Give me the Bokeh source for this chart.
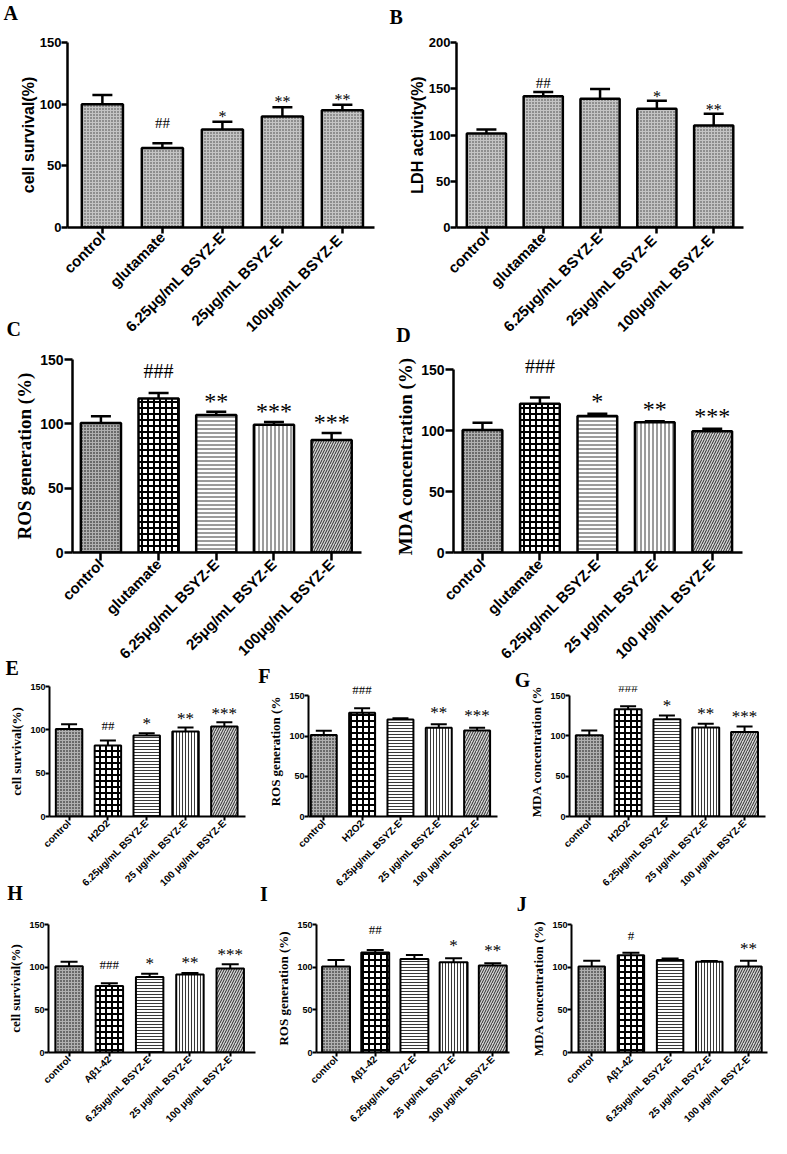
import math
from bokeh.plotting import figure
from bokeh.models import (Range1d, FixedTicker, ColumnDataSource, Whisker, TeeHead,
                          LabelSet, Label)
from bokeh.layouts import column, row
from bokeh.embed import file_html
from bokeh.resources import INLINE

# ---------------- data ----------------
cats_A = ["control", "glutamate", "6.25μg/mL BSYZ-E", "25μg/mL  BSYZ-E", "100μg/mL  BSYZ-E"]
cats_C = ["control", "glutamate", "6.25μg/mL BSYZ-E", "25μg/mL BSYZ-E", "100μg/mL BSYZ-E"]
cats_D = ["control", "glutamate", "6.25μg/mL BSYZ-E", "25 μg/mL BSYZ-E", "100 μg/mL BSYZ-E"]
cats_H2O2 = ["control", "H2O2", "6.25μg/mL BSYZ-E", "25 μg/mL BSYZ-E", "100 μg/mL BSYZ-E"]
cats_AB = ["control", "Aβ1-42", "6.25μg/mL BSYZ-E", "25 μg/mL BSYZ-E", "100 μg/mL BSYZ-E"]

A_mean = [100.0, 64.5, 79.5, 90.0, 95.0]
A_sem = [7.5, 3.8, 6.2, 7.6, 4.6]
A_sig = ["", "##", "*", "**", "**"]

B_mean = [101.5, 142.0, 139.3, 128.3, 110.3]
B_sem = [4.4, 4.6, 10.4, 8.6, 12.8]
B_sig = ["", "##", "", "*", "**"]

C_mean = [100.7, 119.6, 106.8, 99.2, 87.4]
C_sem = [5.1, 4.4, 2.6, 2.3, 5.4]
C_sig = ["", "###", "**", "***", "***"]

D_mean = [100.7, 122.2, 112.2, 107.1, 99.7]
D_sem = [5.9, 5.1, 1.8, 0.7, 2.0]
D_sig = ["", "###", "*", "**", "***"]

E_mean = [101.1, 82.0, 93.5, 98.0, 103.8]
E_sem = [5.4, 5.8, 2.7, 4.7, 5.0]
E_sig = ["", "##", "*", "**", "***"]

F_mean = [101.2, 129.0, 120.4, 110.4, 107.0]
F_sem = [5.3, 5.5, 1.6, 4.2, 3.4]
F_sig = ["", "###", "", "**", "***"]

G_mean = [100.8, 133.0, 120.8, 110.6, 105.0]
G_sem = [6.0, 3.7, 4.6, 4.4, 6.7]
G_sig = ["", "###", "*", "**", "***"]

H_mean = [101.1, 77.8, 88.5, 91.5, 98.5]
H_sem = [5.2, 3.3, 3.7, 1.8, 4.8]
H_sig = ["", "###", "*", "**", "***"]

I_mean = [100.8, 117.3, 109.6, 105.8, 101.9]
I_sem = [7.7, 2.7, 4.6, 4.6, 2.7]
I_sig = ["", "##", "", "*", "**"]

J_mean = [100.8, 114.0, 108.3, 106.4, 100.8]
J_sem = [6.7, 3.0, 1.9, 0.8, 6.7]
J_sig = ["", "#", "", "", "**"]

# ---------------- layout / style ----------------
KX = 771 / 787
KY = 1138 / 1154
SANS = "Liberation Sans"
SERIF = "Liberation Serif"

PAT = {
    "fine": ("#8e8e8e", "cross", "#c4c4c4", 3, 1),
    "fine_dark": ("#6a6a6a", "cross", "#b0b0b0", 3, 1),
    "checker": ("#ffffff", "cross", "#000000", 6, 2),
    "hline": ("#ffffff", "horizontal_line", "#3a3a3a", 4, 1),
    "vline": ("#ffffff", "vertical_line", "#3a3a3a", 4, 1),
    "diag": ("#d4d4d4", "right_diagonal_line", "#2a2a2a", 5, 1),
}
SMALL_SCALE = {"hline": 3, "vline": 3}

BIG_AB = dict(tick_fs=13, xl_fs=15, ylab_fs=16, ylab_font=SANS, lw=2.5, tick_out=6,
              tick_std=0, hash_font=SANS, hash_fs=15, star_fs=16, lab_std=0, small=False)
BIG_CD = dict(tick_fs=14, xl_fs=15, ylab_fs=19, ylab_font=SERIF, lw=2.5, tick_out=8,
              tick_std=1, hash_font=SERIF, hash_fs=20, star_fs=24, lab_std=2, small=False)
SMALL = dict(tick_fs=9, xl_fs=10, ylab_fs=13, ylab_font=SERIF, lw=2, tick_out=4,
             tick_std=0, hash_font=SERIF, hash_fs=13, star_fs=17, lab_std=3, small=True)


def panel(cats, mean, sem, sig, ylabel, Lc, S, pats, letter):
    x0, y0, x1, y1 = Lc["box"]
    fx0, fy0, fx1, fy1 = round(x0 * KX), round(y0 * KY), round(x1 * KX), round(y1 * KY)
    W, H = fx1 - fx0, fy1 - fy0
    lft = round(Lc["yax"] * KX)
    rgt = round(Lc["xend"] * KX)
    bot = round(Lc["zero"] * KY)
    tick_top = round(Lc["top"] * KY)
    ymax = Lc["ymax"]
    if "ftop" in Lc:
        ftop = round(Lc["ftop"] * KY)
        yend = ymax * (bot - ftop) / (bot - tick_top)
    else:
        ftop = tick_top
        yend = ymax
    n = len(cats)
    c0 = Lc["c0"] * KX
    cn = Lc["cn"] * KX
    sp = (cn - c0) / (n - 1)
    xs = -(c0 - lft) / sp
    xe = (n - 1) + (rgt - cn) / sp

    p = figure(width=W, height=H, x_range=Range1d(xs, xe), y_range=Range1d(0, yend),
               min_border_left=lft - fx0, min_border_right=fx1 - rgt,
               min_border_top=ftop - fy0, min_border_bottom=fy1 - bot,
               output_backend="svg", toolbar_location=None, tools="")
    p.xgrid.visible = False
    p.ygrid.visible = False
    p.outline_line_color = None
    p.background_fill_color = "white"
    p.border_fill_alpha = 0

    idx = list(range(n))
    fills, hats, hcols, hsc, hw = [], [], [], [], []
    for k in pats:
        f, h, c, s, w = PAT[k]
        if S["small"] and k in SMALL_SCALE:
            s = SMALL_SCALE[k]
        fills.append(f); hats.append(h); hcols.append(c); hsc.append(s); hw.append(w)
    upper = [m + e for m, e in zip(mean, sem)]
    src = ColumnDataSource(dict(x=idx, mean=mean, upper=upper, fill=fills, hatch=hats,
                                hcol=hcols, hsc=hsc, hw=hw))
    bw = Lc["bw"] * KX / sp
    p.vbar(x="x", top="mean", bottom=0, width=bw, source=src, line_color="black",
           line_width=S["lw"], fill_color="fill", hatch_pattern="hatch", hatch_color="hcol",
           hatch_scale="hsc", hatch_weight="hw")
    wh = Whisker(base="x", lower="mean", upper="upper", source=src, line_color="black",
                 line_width=S["lw"],
                 upper_head=TeeHead(size=Lc["cap"], line_width=S["lw"], line_color="black"),
                 lower_head=None)
    p.add_layout(wh)

    # significance marks
    hx, hy, ht, sx_, sy_, st = [], [], [], [], [], []
    for i, (u, s) in enumerate(zip(upper, sig)):
        if s.startswith("#"):
            hx.append(i); hy.append(u); ht.append(s)
        elif s:
            sx_.append(i); sy_.append(u); st.append(s)
    gh, gs = Lc["gaps"]
    if hx:
        p.add_layout(LabelSet(x="x", y="y", text="t",
                              source=ColumnDataSource(dict(x=hx, y=hy, t=ht)),
                              text_align="center", text_baseline="alphabetic",
                              y_offset=gh, text_font=S["hash_font"],
                              text_font_size=f"{S['hash_fs']}px", text_color="black"))
    if sx_:
        p.add_layout(LabelSet(x="x", y="y", text="t",
                              source=ColumnDataSource(dict(x=sx_, y=sy_, t=st)),
                              text_align="center", text_baseline="alphabetic",
                              y_offset=gs - 0.43 * S["star_fs"], text_font=SANS,
                              text_font_size=f"{S['star_fs']}px", text_color="black"))

    # axes
    for ax in (p.xaxis[0], p.yaxis[0]):
        ax.axis_line_width = S["lw"]
        ax.axis_line_color = "black"
        ax.major_tick_line_width = S["lw"]
        ax.major_tick_line_color = "black"
        ax.major_tick_in = 0
        ax.major_tick_out = S["tick_out"]
        ax.minor_tick_line_color = None
        ax.major_label_text_font = SANS
        ax.major_label_text_font_style = "bold"
        ax.major_label_text_color = "black"
    ya = p.yaxis[0]
    ya.ticker = FixedTicker(ticks=list(range(0, ymax + 1, 50)))
    ya.bounds = (0, ymax)
    ya.major_label_text_font_size = f"{S['tick_fs']}px"
    ya.major_label_standoff = S["tick_std"]
    ya.axis_label = ylabel
    ya.axis_label_text_font = S["ylab_font"]
    ya.axis_label_text_font_style = "bold"
    ya.axis_label_text_font_size = f"{S['ylab_fs']}px"
    ya.axis_label_text_color = "black"
    ya.axis_label_standoff = S["lab_std"]
    xa = p.xaxis[0]
    xa.ticker = FixedTicker(ticks=idx)
    xa.major_label_overrides = {i: c for i, c in enumerate(cats)}
    xa.major_label_orientation = math.pi / 4
    xa.major_label_text_font_size = f"{S['xl_fs']}px"
    xa.major_label_standoff = 1

    t, lx, lcap = letter
    p.add_layout(Label(x=lx * KX - fx0, y=(lcap - 4.6) * KY - fy0,
                       x_units="canvas", y_units="canvas", text=t, text_font=SERIF,
                       text_font_style="bold", text_font_size="20px",
                       text_align="left", text_baseline="top", text_color="black"), "above")
    return p


FINE5 = ["fine"] * 5
MIX5 = ["fine_dark", "checker", "hline", "vline", "diag"]

pA = panel(cats_A, A_mean, A_sem, A_sig, "cell survival(%)",
           dict(box=(0, 0, 390, 352), yax=68, zero=230, top=29, ymax=150, xend=382,
                c0=104, cn=349, bw=42, cap=20, gaps=(15, 7)),
           BIG_AB, FINE5, ("A", 3, 6))
pB = panel(cats_A, B_mean, B_sem, B_sig, "LDH activity(%)",
           dict(box=(390, 0, 787, 352), yax=465, zero=237, top=43, ymax=200, xend=758,
                c0=496, cn=728, bw=40, cap=20, gaps=(4, 6)),
           BIG_AB, FINE5, ("B", 397, 10))
pC = panel(cats_C, C_mean, C_sem, C_sig, "ROS generation (%)",
           dict(box=(0, 318, 390, 684), yax=73, zero=560, top=364, ymax=150, xend=368,
                c0=102.5, cn=338, bw=41, cap=20, gaps=(15, 13)),
           BIG_CD, MIX5, ("C", 6, 327))
pD = panel(cats_D, D_mean, D_sem, D_sig, "MDA concentration (%)",
           dict(box=(390, 318, 787, 684), yax=462, zero=560, top=364, ftop=353, ymax=150,
                xend=757, c0=492, cn=726.5, bw=40.5, cap=20, gaps=(25, 15)),
           BIG_CD, MIX5, ("D", 404, 333))
pE = panel(cats_H2O2, E_mean, E_sem, E_sig, "cell survival(%)",
           dict(box=(0, 660, 256, 915), yax=50, zero=827, top=696, ymax=150, xend=250,
                c0=70, cn=228.5, bw=27, cap=16, gaps=(10, 11)),
           SMALL, MIX5, ("E", 5, 670))
pF = panel(cats_H2O2, F_mean, F_sem, F_sig, "ROS generation (%",
           dict(box=(256, 660, 518, 915), yax=314, zero=827, top=696, ftop=686, ymax=150,
                xend=507, c0=330, cn=486.5, bw=26.5, cap=16, gaps=(14, 14)),
           SMALL, MIX5, ("F", 263, 678))
pG = panel(cats_H2O2, G_mean, G_sem, G_sig, "MDA concentration (%",
           dict(box=(518, 660, 787, 915), yax=581, zero=827, top=694, ftop=683, ymax=150,
                xend=781, c0=601, cn=759.5, bw=27.5, cap=16, gaps=(14, 12)),
           SMALL, MIX5, ("G", 525, 683))
pH = panel(cats_AB, H_mean, H_sem, H_sig, "cell survival(%)",
           dict(box=(0, 890, 262, 1154), yax=49, zero=1072, top=937, ymax=150, xend=260,
                c0=70, cn=234.5, bw=28, cap=17, gaps=(14, 12)),
           SMALL, MIX5, ("H", 7, 899))
pI = panel(cats_AB, I_mean, I_sem, I_sig, "ROS generation (%)",
           dict(box=(262, 890, 524, 1154), yax=323, zero=1067, top=937, ymax=150, xend=520,
                c0=342.5, cn=502.5, bw=28.5, cap=17, gaps=(16, 15)),
           SMALL, MIX5, ("I", 265, 900))
pJ = panel(cats_AB, J_mean, J_sem, J_sig, "MDA concentration (%)",
           dict(box=(524, 890, 787, 1154), yax=583, zero=1067, top=935, ymax=150, xend=783,
                c0=603.5, cn=763.5, bw=27, cap=17, gaps=(13, 14)),
           SMALL, MIX5, ("J", 527, 910))

ROWS = [(0, 352), (318, 684), (660, 915), (890, 1154)]
rows = []
prev_bottom = None
for (top, bottom), figs in zip(ROWS, [(pA, pB), (pC, pD), (pE, pF, pG), (pH, pI, pJ)]):
    mt = 0 if prev_bottom is None else round(top * KY) - round(prev_bottom * KY)
    rows.append(row(*figs, margin=(mt, 0, 0, 0)))
    prev_bottom = bottom

layout = column(*rows)
open("out.html", "w").write(file_html(layout, INLINE))
